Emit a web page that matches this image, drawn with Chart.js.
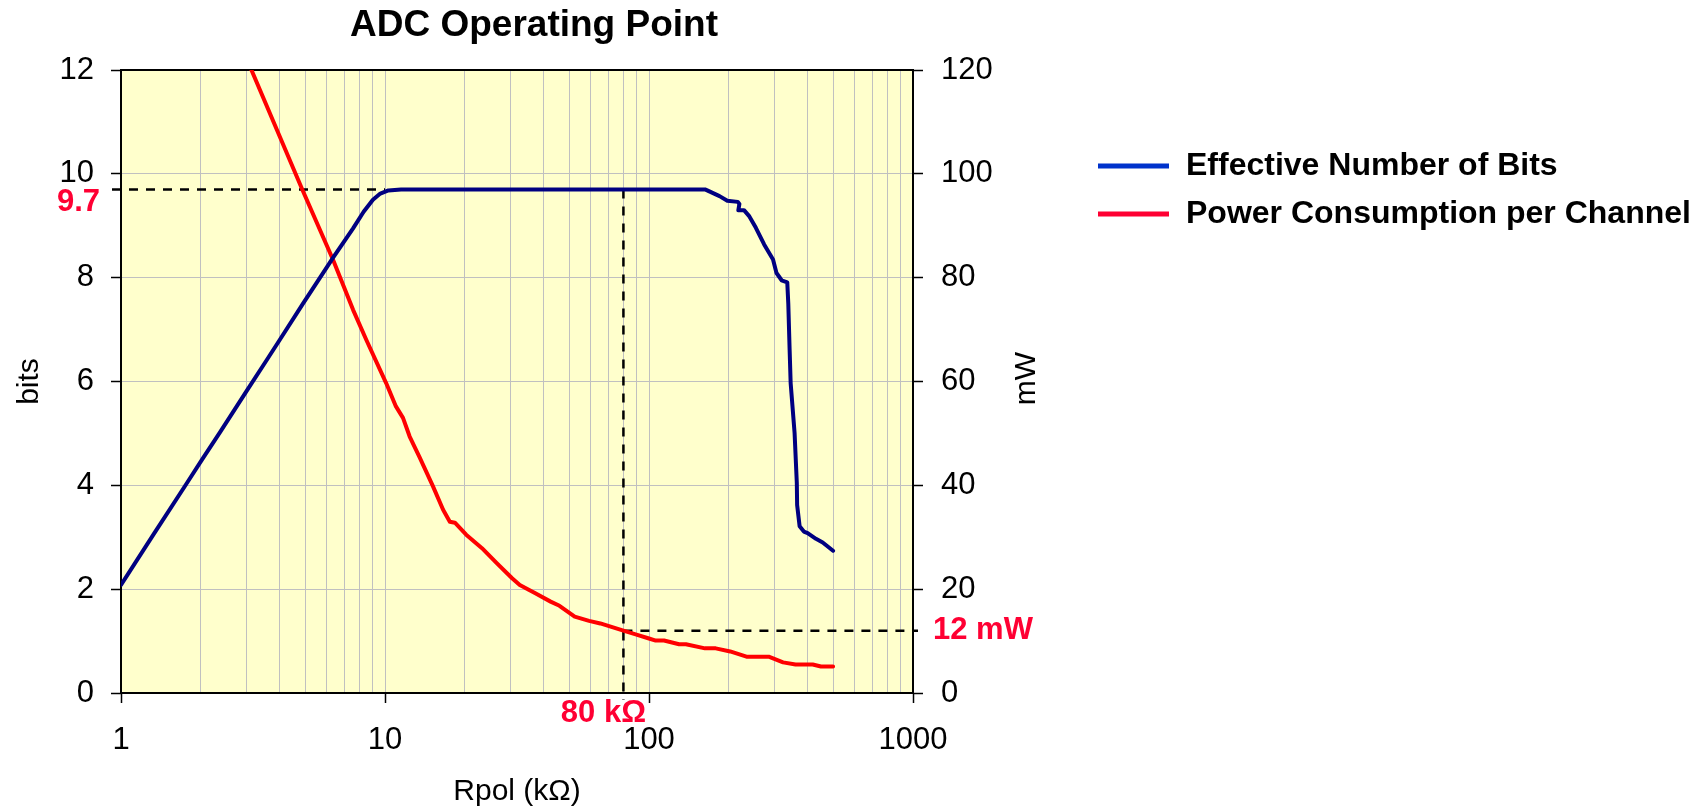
<!DOCTYPE html>
<html>
<head>
<meta charset="utf-8">
<title>ADC Operating Point</title>
<script src="https://cdn.jsdelivr.net/npm/chart.js@4.4.1/dist/chart.umd.min.js"></script>
<style>
  html, body { margin: 0; padding: 0; background: #fff; }
  #wrap { width: 1705px; height: 812px; position: relative; }
</style>
</head>
<body>
<div id="wrap"><canvas id="adcChart"></canvas></div>
<script>
// Effective number of bits vs Rpol (kOhm)
const enobR = [1, 1.33, 1.78, 2.03, 2.37, 3.01, 3.55, 3.99, 4.89, 6.0,
  6.35, 7.57, 8.3, 9.0, 9.6, 10.3, 11.5, 163, 185, 198,
  217, 220, 218, 229, 240, 254, 273, 295, 304, 318,
  334, 337, 341, 344, 356, 363, 364, 372, 386, 399,
  429, 455, 498];
const enobBits = [2.08, 3.06, 4.05, 4.50, 5.02, 5.84, 6.40, 6.80, 7.50, 8.19,
  8.38, 8.95, 9.27, 9.50, 9.62, 9.68, 9.70, 9.70, 9.57, 9.48,
  9.46, 9.42, 9.30, 9.30, 9.18, 8.96, 8.64, 8.35, 8.09, 7.95,
  7.91, 7.50, 6.60, 5.97, 5.01, 4.04, 3.62, 3.21, 3.11, 3.08,
  2.97, 2.90, 2.74];

// Power consumption per channel (mW) vs Rpol (kOhm)
const powerR = [3.12, 4.86, 6.35, 7.57, 8.5, 10.1, 11.0, 11.7, 12.4, 13.5,
  15.2, 16.6, 17.6, 18.4, 20.3, 23.3, 26.5, 30.3, 32.4, 37.1,
  42.4, 45.8, 52.3, 59.3, 65.4, 80, 89, 100, 106, 114,
  130, 138, 163, 179, 203, 234, 284, 322, 359, 417, 448, 498];
const powerMw = [120, 97.0, 83.5, 73.8, 68.0, 59.7, 55.2, 53.0, 49.4, 45.5,
  39.8, 35.3, 33.0, 32.8, 30.5, 27.9, 25.0, 22.1, 20.8, 19.2,
  17.6, 16.8, 14.7, 13.9, 13.4, 12.0, 11.3, 10.5, 10.1, 10.1,
  9.4, 9.4, 8.6, 8.6, 8.0, 7.0, 7.0, 5.9, 5.5, 5.5, 5.1, 5.1];

// Axis ticks
const xMajorTicks = [1, 10, 100, 1000];
const bitsTicks = [0, 2, 4, 6, 8, 10, 12];
const mwTicks = [0, 20, 40, 60, 80, 100, 120];

// Chosen operating point
const opR = 80;
const opBits = 9.7;
const opMw = 12;

const seriesLabels = ['Effective Number of Bits', 'Power Consumption per Channel'];
const legendColors = ['#0033cc', '#ff0033'];

// log gridlines: 1..9 in every decade, plus the last major
const xGridValues = [];
xMajorTicks.slice(0, -1).forEach(d => {
    for (let k = 1; k < 10; k++) xGridValues.push(d * k);
});
xGridValues.push(xMajorTicks[xMajorTicks.length - 1]);

const FONT = "'Liberation Sans', Arial, sans-serif";
Chart.defaults.font.family = FONT;
Chart.defaults.color = '#000';

const toPoints = (xs, ys) => xs.map((x, i) => ({ x: x, y: ys[i] }));

// Background, frame, dashed guide lines and all the free text
const decorPlugin = {
    id: 'decor',
    beforeDraw(chart) {
        const { ctx, chartArea: a } = chart;
        ctx.save();
        ctx.fillStyle = '#ffffcc';
        ctx.fillRect(a.left, a.top, a.right - a.left, a.bottom - a.top);
        ctx.restore();
    },
    beforeDatasetsDraw(chart) {
        const { ctx, chartArea: a, scales } = chart;
        const xs = scales.x, yb = scales.y, ym = scales.y1;

        ctx.save();
        ctx.strokeStyle = '#000';
        ctx.lineWidth = 2;
        ctx.strokeRect(a.left, a.top, a.right - a.left, a.bottom - a.top);

        // operating point guides
        const px = xs.getPixelForValue(opR);
        const pyBits = yb.getPixelForValue(opBits);
        const pyMw = ym.getPixelForValue(opMw);
        ctx.setLineDash([9, 8]);
        ctx.lineWidth = 2.5;
        ctx.beginPath();
        ctx.moveTo(a.left - 9, pyBits);
        ctx.lineTo(xs.getPixelForValue(10), pyBits);
        ctx.moveTo(px, pyBits);
        ctx.lineTo(px, a.bottom + 7);
        ctx.moveTo(px, pyMw);
        ctx.lineTo(a.right + 5, pyMw);
        ctx.stroke();
        ctx.restore();
    },
    afterDraw(chart) {
        const { ctx, chartArea: a, scales } = chart;
        const xs = scales.x, yb = scales.y, ym = scales.y1;
        ctx.save();

        // title
        ctx.fillStyle = '#000';
        ctx.font = 'bold 37px ' + FONT;
        ctx.textAlign = 'center';
        ctx.textBaseline = 'alphabetic';
        ctx.fillText('ADC Operating Point', (a.left + a.right) / 2 + 17, 36);

        // axis titles
        ctx.font = '30px ' + FONT;
        ctx.textBaseline = 'middle';
        ctx.fillText('Rpol (k\u03A9)', (a.left + a.right) / 2, 792);
        ctx.save();
        ctx.translate(30, (a.top + a.bottom) / 2);
        ctx.rotate(-Math.PI / 2);
        ctx.fillText('bits', 0, 0);
        ctx.restore();
        ctx.save();
        ctx.translate(1027, (a.top + a.bottom) / 2 - 3);
        ctx.rotate(-Math.PI / 2);
        ctx.fillText('mW', 0, 0);
        ctx.restore();

        // operating point values
        ctx.fillStyle = '#ff0033';
        ctx.font = 'bold 31px ' + FONT;
        ctx.textBaseline = 'alphabetic';
        ctx.textAlign = 'right';
        ctx.fillText(String(opBits), a.left - 21, yb.getPixelForValue(opBits) + 22);
        ctx.textAlign = 'center';
        ctx.fillText(opR + ' k\u03A9', xs.getPixelForValue(opR) - 20, a.bottom + 29);
        ctx.textAlign = 'left';
        ctx.fillText(opMw + ' mW', a.right + 20, ym.getPixelForValue(opMw) + 8);

        // legend
        const lx = 1098, lw = 71, rowY = [166, 214];
        seriesLabels.forEach((label, i) => {
            ctx.strokeStyle = legendColors[i];
            ctx.lineWidth = 5;
            ctx.setLineDash([]);
            ctx.beginPath();
            ctx.moveTo(lx, rowY[i]);
            ctx.lineTo(lx + lw, rowY[i]);
            ctx.stroke();

            ctx.fillStyle = '#000';
            ctx.font = 'bold 32px ' + FONT;
            ctx.textAlign = 'left';
            ctx.textBaseline = 'middle';
            ctx.fillText(label, lx + lw + 17, rowY[i]);
        });

        ctx.restore();
    }
};

const ctxAdc = document.getElementById('adcChart').getContext('2d');
const adcChart = new Chart(ctxAdc, {
    type: 'scatter',
    data: {
        datasets: [
            {
                label: seriesLabels[0],
                data: toPoints(enobR, enobBits),
                yAxisID: 'y',
                showLine: true,
                borderColor: '#000080',
                borderWidth: 4,
                pointRadius: 0,
                tension: 0,
                borderJoinStyle: 'round',
                borderCapStyle: 'round'
            },
            {
                label: seriesLabels[1],
                data: toPoints(powerR, powerMw),
                yAxisID: 'y1',
                showLine: true,
                borderColor: '#ff0000',
                borderWidth: 4,
                pointRadius: 0,
                tension: 0,
                borderJoinStyle: 'round',
                borderCapStyle: 'round'
            }
        ]
    },
    options: {
        responsive: true,
        maintainAspectRatio: false,
        animation: false,
        events: [],
        layout: {
            padding: { top: 70, right: 692, bottom: 0, left: 0 }
        },
        plugins: {
            legend: { display: false },
            title: { display: false },
            tooltip: { enabled: false }
        },
        scales: {
            x: {
                type: 'logarithmic',
                min: 1,
                max: 1000,
                afterBuildTicks(scale) {
                    scale.ticks = xGridValues.map(v => ({ value: v, major: xMajorTicks.includes(v) }));
                },
                afterFit(scale) { scale.height = 119; },
                border: { display: false },
                grid: {
                    color: '#c0c0c0',
                    lineWidth: 1,
                    tickLength: 10,
                    tickWidth: 1.5,
                    tickColor: c => (c.tick && xMajorTicks.includes(c.tick.value)) ? '#000' : 'rgba(0,0,0,0)'
                },
                ticks: {
                    autoSkip: false,
                    maxRotation: 0,
                    padding: 19,
                    font: { size: 31 },
                    callback: v => xMajorTicks.includes(v) ? String(v) : ''
                }
            },
            y: {
                position: 'left',
                min: 0,
                max: 12,
                afterBuildTicks(scale) {
                    scale.ticks = bitsTicks.map(v => ({ value: v }));
                },
                afterFit(scale) { scale.width = 121; },
                border: { display: false },
                grid: {
                    color: '#c0c0c0',
                    lineWidth: 1,
                    tickLength: 10,
                    tickWidth: 1.5,
                    tickColor: '#000'
                },
                ticks: { padding: 17, font: { size: 31 } }
            },
            y1: {
                position: 'right',
                min: 0,
                max: 120,
                afterBuildTicks(scale) {
                    scale.ticks = mwTicks.map(v => ({ value: v }));
                },
                afterFit(scale) { scale.width = 100; },
                border: { display: false },
                grid: {
                    drawOnChartArea: false,
                    tickLength: 10,
                    tickWidth: 1.5,
                    tickColor: '#000'
                },
                ticks: { padding: 18, font: { size: 31 } }
            }
        }
    },
    plugins: [decorPlugin]
});
</script>
</body>
</html>
